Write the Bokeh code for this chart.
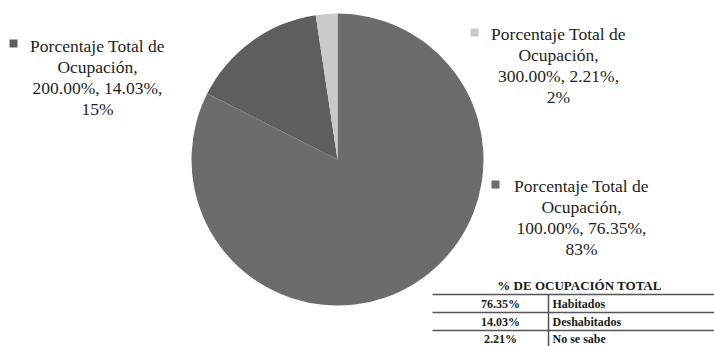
import numpy as np
from bokeh.plotting import figure
from bokeh.models import Range1d
from bokeh.core.properties import value
from bokeh.embed import file_html
from bokeh.resources import INLINE

# ---- data ----
series_name = "Porcentaje Total de Ocupación"
categories = ["100.00%", "200.00%", "300.00%"]
values = [76.35, 14.03, 2.21]
pct_labels = ["83%", "15%", "2%"]
slice_colors = ["#6c6c6c", "#5e5e5e", "#c9c9c9"]

table_title = "% DE OCUPACIÓN TOTAL"
table_pct = ["76.35%", "14.03%", "2.21%"]
table_names = ["Habitados", "Deshabitados", "No se sabe"]

W, H = 714, 346
def Y(ypx):
    return H - ypx

p = figure(width=W, height=H, output_backend="svg", toolbar_location=None,
           x_range=Range1d(0, W), y_range=Range1d(0, H),
           x_axis_type=None, y_axis_type=None, min_border=0,
           outline_line_color=None, background_fill_color="white",
           border_fill_color="white")
p.grid.visible = False

# ---- pie ----
vals = np.array(values, dtype=float)
frac = vals / vals.sum()
cum = np.concatenate([[0], np.cumsum(frac)])
start = np.pi / 2 - 2 * np.pi * cum[:-1]
end = np.pi / 2 - 2 * np.pi * cum[1:]
cx, cy, r = 337, Y(159), 146
p.wedge(x=[cx] * 3, y=[cy] * 3, radius=r, start_angle=list(start), end_angle=list(end),
        direction="clock", fill_color=slice_colors, line_color=None)

# ---- data labels ----
font = value("Liberation Serif")
name_parts = ["Porcentaje Total de", "Ocupación,"]
label_pos = [(581, 185, 495, 184), (97, 45, 13, 43), (558, 33, 474, 32)]  # text center x, first line y, marker x, marker y
for i, (tx, ty, mx, my) in enumerate(label_pos):
    lines = name_parts + [f"{categories[i]}, {values[i]:.2f}%,", pct_labels[i]]
    p.text(x=[tx] * 4, y=[Y(ty + 21 * k) for k in range(4)], text=lines,
           text_font=font, text_font_size="17.5px", text_color="#1e1e1e",
           text_align="center", text_baseline="middle")
    p.rect(x=[mx], y=[Y(my)], width=8, height=8, fill_color=slice_colors[i], line_color=None)

# ---- table ----
p.quad(left=[430], right=[W], top=[Y(275)], bottom=[0], fill_color="white", line_color=None)
p.text(x=[579], y=[Y(285)], text=[table_title], text_font=font, text_font_style="bold",
       text_font_size="13px", text_color="#1a1a1a", text_align="center", text_baseline="middle")
line_ys = [294, 312, 330]
p.segment(x0=[432] * 3, x1=[W] * 3, y0=[Y(v) for v in line_ys], y1=[Y(v) for v in line_ys],
          line_color="#555555", line_width=1.5)
p.segment(x0=[548], x1=[548], y0=[Y(294)], y1=[0], line_color="#555555", line_width=1.5)
row_ys = [303, 321, 338]
p.text(x=[500] * 3, y=[Y(v) for v in row_ys], text=table_pct, text_font=font, text_font_style="bold",
       text_font_size="12px", text_color="#1a1a1a", text_align="center", text_baseline="middle")
p.text(x=[552] * 3, y=[Y(v) for v in row_ys], text=table_names, text_font=font, text_font_style="bold",
       text_font_size="12px", text_color="#1a1a1a", text_align="left", text_baseline="middle")

open("out.html", "w").write(file_html(p, INLINE))
